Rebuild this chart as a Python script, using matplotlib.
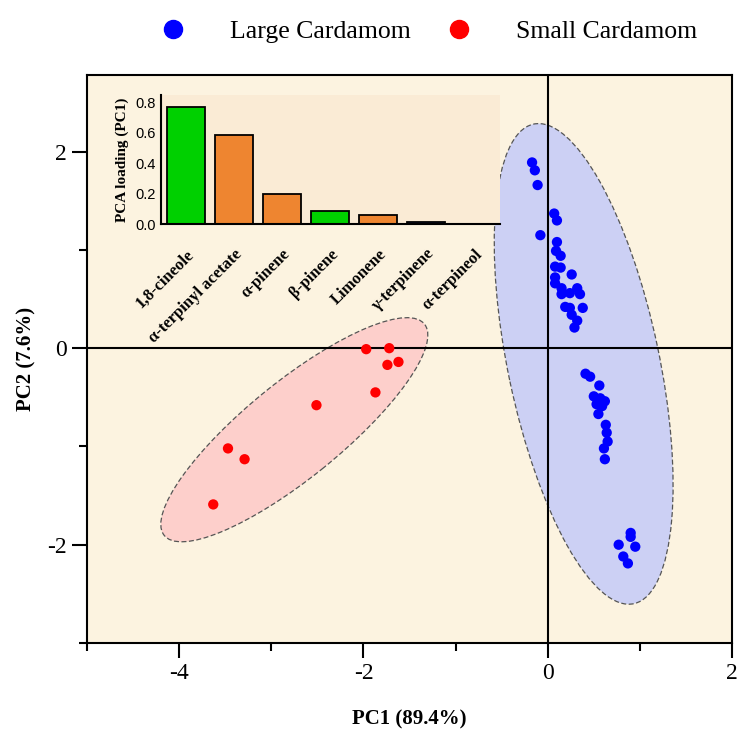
import numpy as np
import matplotlib
matplotlib.use('Agg')
import matplotlib.pyplot as plt
from matplotlib.patches import Ellipse
from matplotlib.lines import Line2D
from matplotlib.ticker import MultipleLocator

plt.rcParams['font.family'] = 'Liberation Serif'
plt.rcParams['axes.unicode_minus'] = False

# PCA scores
large_pc1 = [-0.17, -0.14, -0.11, 0.07, 0.10, -0.08, 0.10, 0.09, 0.14, 0.08,
             0.14, 0.26, 0.08, 0.08, 0.15, 0.15, 0.24, 0.32, 0.35, 0.38,
             0.19, 0.24, 0.26, 0.32, 0.29,
             0.41, 0.46, 0.56, 0.50, 0.57, 0.62, 0.53, 0.59, 0.55, 0.63,
             0.64, 0.65, 0.61, 0.62, 0.90, 0.90, 0.77, 0.95, 0.82, 0.87]
large_pc2 = [1.89, 1.81, 1.66, 1.37, 1.30, 1.15, 1.08, 0.99, 0.94, 0.83,
             0.82, 0.75, 0.72, 0.66, 0.61, 0.55, 0.56, 0.61, 0.55, 0.41,
             0.42, 0.41, 0.34, 0.28, 0.21,
             -0.26, -0.29, -0.38, -0.49, -0.51, -0.54, -0.57, -0.59, -0.67, -0.78,
             -0.86, -0.95, -1.02, -1.13, -1.88, -1.92, -2.00, -2.02, -2.12, -2.19]

small_pc1 = [-1.97, -1.72, -1.74, -1.62, -1.87, -2.51, -3.47, -3.29, -3.63]
small_pc2 = [-0.01, 0.00, -0.17, -0.14, -0.45, -0.58, -1.02, -1.13, -1.59]

# confidence ellipses: centre x, centre y, width, height, angle
large_ell = [0.39, -0.16, 5.0, 1.64, -77.3]
small_ell = [-2.75, -0.83, 3.55, 1.0, 37.0]

# PC1 loadings
compounds = ['1,8-cineole', 'α-terpinyl acetate', 'α-pinene', 'β-pinene',
             'Limonene', 'γ-terpinene', 'α-terpineol']
loadings = [0.77, 0.585, 0.195, 0.088, 0.058, 0.014, 0.0]
bar_colors = ['#00d000', '#ee8530', '#ee8530', '#00d000', '#ee8530', '#3040b0', '#ee8530']

fig = plt.figure(figsize=(7.38, 7.33), dpi=100)
ax = fig.add_axes([0.1179, 0.1228, 0.8740, 0.7749])
ax.set_facecolor('#fcf3e0')

ax.add_patch(Ellipse((large_ell[0], large_ell[1]), large_ell[2], large_ell[3], angle=large_ell[4],
                     facecolor='#ccd0f4', edgecolor='#555555', ls=(0, (4, 2)), lw=0.9, zorder=1))
ax.add_patch(Ellipse((small_ell[0], small_ell[1]), small_ell[2], small_ell[3], angle=small_ell[4],
                     facecolor='#fdcfcb', edgecolor='#555555', ls=(0, (4, 2)), lw=0.9, zorder=1))

ax.axhline(0, color='black', lw=1.5, zorder=2)
ax.axvline(0, color='black', lw=1.5, zorder=2)

ax.scatter(large_pc1, large_pc2, s=55, color='#0000ff', edgecolors='none', zorder=3)
ax.scatter(small_pc1, small_pc2, s=55, color='#ff0000', edgecolors='none', zorder=3)

ax.set_xlim(-5, 2)
ax.set_ylim(-3, 2.78)
ax.xaxis.set_major_locator(MultipleLocator(2))
ax.xaxis.set_minor_locator(MultipleLocator(1))
ax.yaxis.set_major_locator(MultipleLocator(2))
ax.yaxis.set_minor_locator(MultipleLocator(1))
ax.tick_params(which='major', length=11, width=1.5, labelsize=17, direction='out')
ax.tick_params(which='minor', length=6, width=1.5, direction='out')
for sp in ax.spines.values():
    sp.set_linewidth(1.5)
ax.set_xlabel('PC1 (89.4%)', fontsize=15, fontweight='bold', labelpad=18)
ax.set_ylabel('PC2 (7.6%)', fontsize=15, fontweight='bold', labelpad=8)

handles = [Line2D([], [], marker='o', ls='none', color='#0000ff', markersize=13, label='Large Cardamom'),
           Line2D([], [], marker='o', ls='none', color='#ff0000', markersize=13, label='Small Cardamom')]
fig.legend(handles=handles, loc='center', bbox_to_anchor=(0.572, 0.957), ncol=2, frameon=False,
           fontsize=18.5, handletextpad=1.2, columnspacing=0.9)

# inset bar chart of loadings
ins = fig.add_axes([0.2182, 0.6944, 0.4593, 0.176])
ins.set_facecolor('#faebd5')
ins.bar(range(len(compounds)), loadings, width=0.8, color=bar_colors, edgecolor='black', lw=1.3)
ins.set_xlim(-0.52, 6.54)
ins.set_ylim(0, 0.85)
ins.set_yticks([0, 0.2, 0.4, 0.6, 0.8])
ins.set_yticklabels(['0.0', '0.2', '0.4', '0.6', '0.8'], family='Liberation Sans', fontsize=10.5)
ins.set_xticks(range(len(compounds)))
ins.set_xticklabels(compounds, rotation=45, ha='right', rotation_mode='anchor',
                    fontsize=12, fontweight='bold')
ins.tick_params(axis='both', length=0, pad=4)
ins.tick_params(axis='x', pad=16)
ins.spines['top'].set_visible(False)
ins.spines['right'].set_visible(False)
ins.spines['left'].set_linewidth(1.5)
ins.spines['bottom'].set_linewidth(1.5)
ins.set_ylabel('PCA loading (PC1)', fontsize=11, fontweight='bold', labelpad=4)

fig.savefig('out.png', dpi=100)
